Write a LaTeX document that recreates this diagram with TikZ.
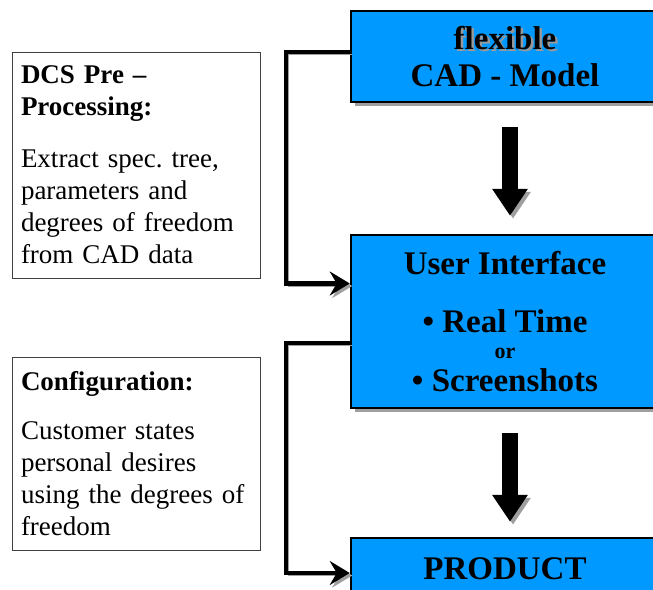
\documentclass[tikz,border=0pt]{standalone}
\usepackage{fontspec}
\setmainfont{Liberation Serif}
\usepackage{tikz}
\usetikzlibrary{arrows.meta, positioning, calc}
\definecolor{stageblue}{RGB}{0,153,255}
\newcommand{\shadowword}[1]{\makebox[0pt][l]{\hspace{2.5pt}\raisebox{-2.5pt}{\textcolor{gray!80}{#1}}}#1}

\begin{document}
\begin{tikzpicture}[x=1pt, y=-1pt,
  stage/.style={rectangle, draw, line width=2.5pt, fill=stageblue, minimum width=308pt, align=center, font=\fontsize{33}{37}\selectfont\bfseries, preaction={fill=gray!75, transform canvas={shift={(4pt,-4pt)}}}},
  note/.style={rectangle, draw=black!75, line width=0.8pt, fill=white, minimum width=248pt, text width=230pt, align=left, inner xsep=9pt, font=\fontsize{27}{32}\selectfont\frenchspacing},
  link/.style={line width=4.5pt, -{Stealth[length=20pt, width=24pt, inset=7pt]}, preaction={draw=gray!75, transform canvas={shift={(2.5pt,-2.5pt)}}}},
  flow/.style={line width=16pt, -{Triangle[length=27pt, width=34pt]}, preaction={draw=gray!75, transform canvas={shift={(3pt,-3pt)}}}}
]
\useasboundingbox (0,0) rectangle (653,589);
\node[stage, minimum height=91pt] (cad) at (505,56.5) {\shadowword{flexible}\\CAD - Model};
\node[stage, minimum height=173pt, font=\fontsize{33}{26}\selectfont\bfseries] (ui) at (505,321.5) {User Interface\\[32pt]\textbullet\ Real Time\\{\fontsize{22}{22}\selectfont or}\\[7pt]\textbullet\ Screenshots};
\node[stage, minimum height=62pt] (prod) at (505,569) {PRODUCT};
\node[note, minimum height=226pt] (pre) at (136,165) {\textbf{DCS Pre –}\\\textbf{Processing:}\\[20pt]Extract spec. tree,\\parameters and\\degrees of freedom\\from CAD data};
\node[note, minimum height=193pt] (conf) at (136,453.5) {\textbf{Configuration:}\\[17pt]Customer states\\personal desires\\using the degrees of\\freedom};
\coordinate (bend1) at (286,52);
\coordinate (bend2) at (286,343);
\draw[link] (cad.west |- bend1) -- (bend1) |- ([yshift=38pt]ui.west);
\draw[link] (ui.west |- bend2) -- (bend2) |- ([yshift=-4pt]prod.west);
\draw[flow] ([xshift=5pt, yshift=-24pt]cad.south) -- ([xshift=5pt, yshift=18pt]ui.north);
\draw[flow] ([xshift=5pt, yshift=-24pt]ui.south) -- ([xshift=5pt, yshift=15pt]prod.north);
\end{tikzpicture}
\end{document}
